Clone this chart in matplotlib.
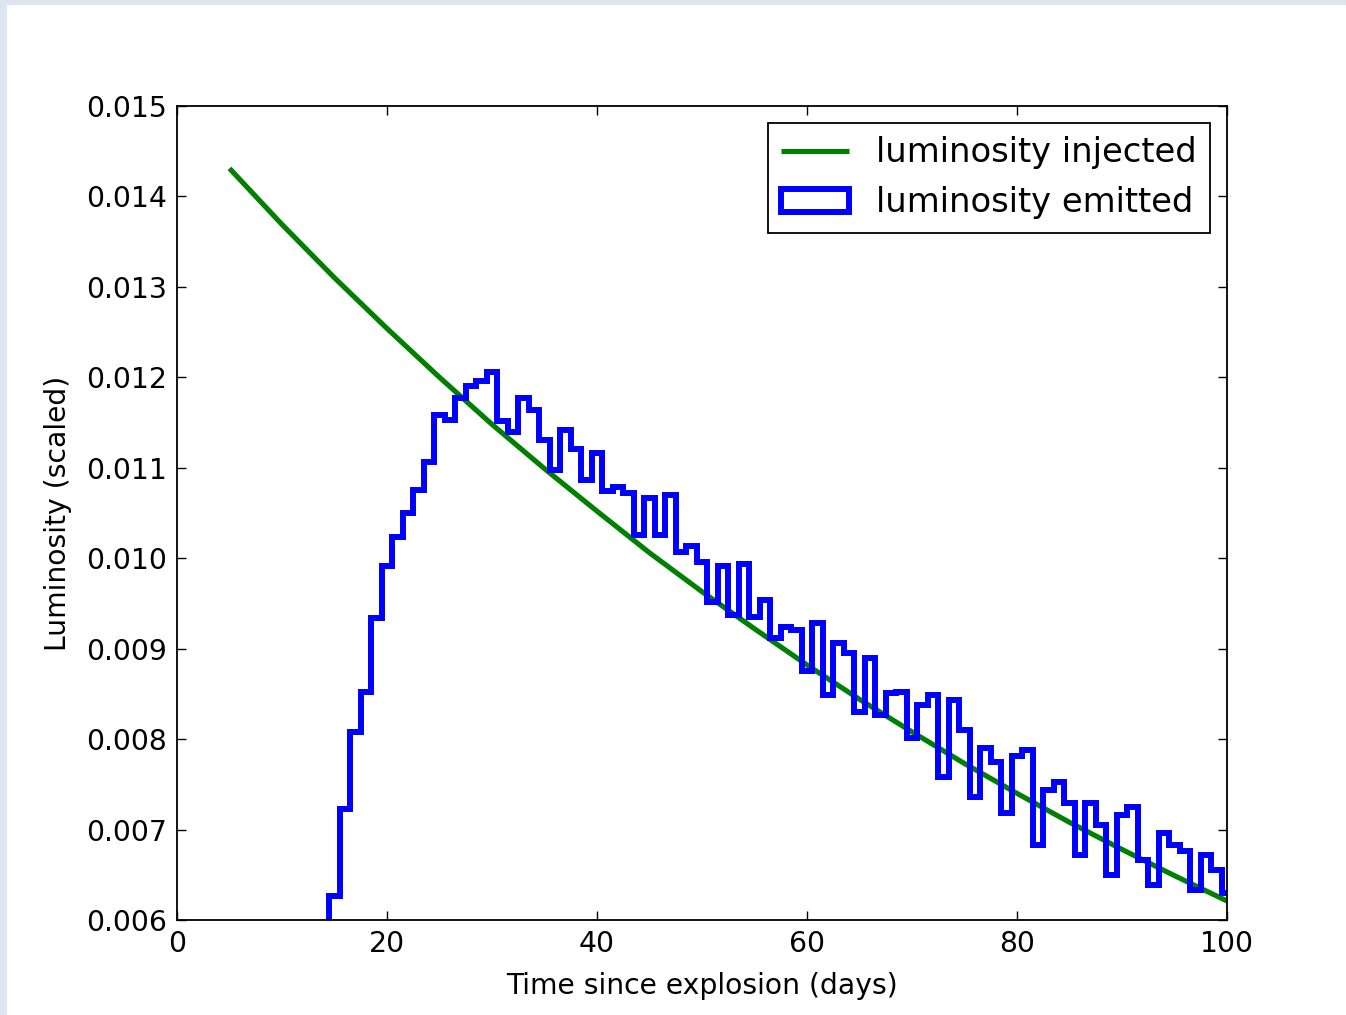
import numpy as np
import matplotlib
matplotlib.use("Agg")
import matplotlib.pyplot as plt
from matplotlib.patches import Rectangle

# injected luminosity curve, read every 5 days
t_inj = [5, 10, 15, 20, 25, 30, 35, 40, 45, 50, 55, 60, 65, 70, 75, 80, 85, 90, 95, 100]
lum_inj = [0.01431, 0.01369, 0.01310, 0.01254, 0.01200, 0.01148, 0.01099, 0.01052,
           0.01006, 0.00963, 0.00922, 0.00882, 0.00844, 0.00808, 0.00773, 0.00740,
           0.00708, 0.00678, 0.00649, 0.00621]

# emitted luminosity histogram, one-day bins centred on days 15..100
days_emit = list(range(15, 101))
lum_emit = [0.00627, 0.00723, 0.00808, 0.00852, 0.00934, 0.00991, 0.01024, 0.01050,
            0.01075, 0.01106, 0.01158, 0.01153, 0.01177, 0.01190, 0.01196, 0.01206,
            0.01152, 0.01140, 0.01177, 0.01164, 0.01131, 0.01098, 0.01142, 0.01121,
            0.01086, 0.01116, 0.01074, 0.01079, 0.01072, 0.01026, 0.01067, 0.01026,
            0.01070, 0.01007, 0.01013, 0.00996, 0.00952, 0.00991, 0.00937, 0.00994,
            0.00935, 0.00954, 0.00912, 0.00924, 0.00921, 0.00875, 0.00928, 0.00849,
            0.00906, 0.00895, 0.00830, 0.00890, 0.00827, 0.00851, 0.00852, 0.00801,
            0.00838, 0.00849, 0.00758, 0.00843, 0.00810, 0.00736, 0.00790, 0.00775,
            0.00718, 0.00781, 0.00788, 0.00683, 0.00744, 0.00753, 0.00729, 0.00672,
            0.00729, 0.00705, 0.00650, 0.00716, 0.00725, 0.00666, 0.00639, 0.00696,
            0.00683, 0.00676, 0.00633, 0.00672, 0.00655, 0.00630]

x_ticks = [0, 20, 40, 60, 80, 100]
y_ticks = [0.006, 0.007, 0.008, 0.009, 0.010, 0.011, 0.012, 0.013, 0.014, 0.015]

plt.rcParams['font.family'] = 'DejaVu Sans'
plt.rcParams['font.size'] = 20.3

W, H = 1346, 1015
fig = plt.figure(figsize=(W / 100, H / 100), dpi=100)
fig.patch.set_facecolor('white')

# screenshot frame on top and left
fig.patches.append(Rectangle((0, 1 - 5 / H), 1, 5 / H, transform=fig.transFigure,
                             facecolor='#dce5f0', edgecolor='none', zorder=-1))
fig.patches.append(Rectangle((0, 0), 7 / W, 1, transform=fig.transFigure,
                             facecolor='#dce5f0', edgecolor='none', zorder=-1))

ax = fig.add_axes([177 / W, 1 - 920 / H, (1227 - 177) / W, (920 - 106) / H])

ax.plot(t_inj, lum_inj, color=(0, 0.5, 0), lw=3.7, label='luminosity injected',
        solid_capstyle='butt')

edges = np.arange(14.5, 101.5, 1.0)
ax.hist(days_emit, bins=edges, weights=lum_emit, histtype='step', color='b',
        lw=4.3, label='luminosity emitted')

ax.set_xlim(0, 100)
ax.set_ylim(0.006, 0.015)
ax.set_xticks(x_ticks)
ax.set_yticks(y_ticks)
ax.set_yticklabels(['%.3f' % v for v in y_ticks])

ax.tick_params(direction='in', top=True, right=True, length=6.5, width=1, pad=7)
for s in ax.spines.values():
    s.set_linewidth(1.3)

ax.set_xlabel('Time since explosion (days)', labelpad=10)
ax.set_ylabel('Luminosity (scaled)', labelpad=10)

leg = ax.legend(loc='upper right', fancybox=False, edgecolor='black',
                framealpha=1, fontsize=24.3, handlelength=2.0, handletextpad=0.8,
                borderaxespad=0.5, borderpad=0.4, labelspacing=0.5)
leg.get_frame().set_linewidth(1.3)

fig.savefig('out.png', dpi=100)
